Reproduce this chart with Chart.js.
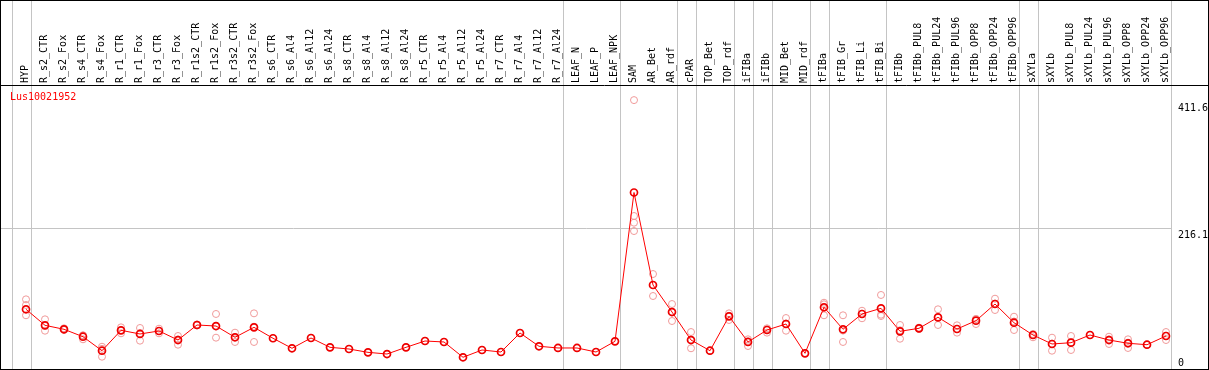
<!DOCTYPE html>
<html>
<head>
<meta charset="utf-8">
<script src="https://cdn.jsdelivr.net/npm/chart.js@4.4.1/dist/chart.umd.min.js"></script>
<style>
  html, body { margin: 0; padding: 0; background: #ffffff; }
  #wrap { width: 1209px; height: 370px; }
</style>
</head>
<body>
<div id="wrap"><canvas id="c" width="1209" height="370"></canvas></div>
<script>
// ---- data ----
const geneName = "Lus10021952";
const categories = ["HYP","R_s2_CTR","R_s2_Fox","R_s4_CTR","R_s4_Fox","R_r1_CTR","R_r1_Fox","R_r3_CTR","R_r3_Fox","R_r1s2_CTR","R_r1s2_Fox","R_r3s2_CTR","R_r3s2_Fox","R_s6_CTR","R_s6_Al4","R_s6_Al12","R_s6_Al24","R_s8_CTR","R_s8_Al4","R_s8_Al12","R_s8_Al24","R_r5_CTR","R_r5_Al4","R_r5_Al12","R_r5_Al24","R_r7_CTR","R_r7_Al4","R_r7_Al12","R_r7_Al24","LEAF_N","LEAF_P","LEAF_NPK","SAM","AR_Bet","AR_rdf","cPAR","TOP_Bet","TOP_rdf","iFIBa","iFIBb","MID_Bet","MID_rdf","tFIBa","tFIB_Gr","tFIB_Li","tFIB_Bi","tFIBb","tFIBb_PUL8","tFIBb_PUL24","tFIBb_PUL96","tFIBb_OPP8","tFIBb_OPP24","tFIBb_OPP96","sXYLa","sXYLb","sXYLb_PUL8","sXYLb_PUL24","sXYLb_PUL96","sXYLb_OPP8","sXYLb_OPP24","sXYLb_OPP96"];
const meanValues = [91.7,67.1,61.0,49.6,28.1,59.4,53.8,58.4,44.5,67.6,66.0,48.7,64.0,47.2,31.8,47.6,33.3,30.7,25.6,23.0,33.3,43.0,41.5,18.0,29.2,26.1,55.3,34.9,32.3,32.3,26.1,42.5,271.1,129.0,87.5,44.5,28.1,80.9,41.5,59.9,69.1,24.1,94.8,61.0,84.5,93.2,57.9,62.5,79.4,61.4,74.2,99.8,71.1,52.2,38.4,40.4,52.2,44.5,39.5,37.3,50.7];
const replicateValues = [
  [107.0,98.3,82.5],[76.3,66.5,58.8],[62.5,60.5,60.0],[51.8,51.5,45.6],[34.2,31.0,18.9],
  [64.0,59.5,54.8],[63.0,55.0,43.5],[61.9,58.5,54.8],[50.7,45.5,37.3],[68.5,67.5,66.8],
  [84.5,65.5,48.1],[55.8,48.8,41.5],[85.5,65.0,41.5],[47.2],[31.8],
  [47.6],[33.3],[30.7],[25.6],[23.0],
  [33.3],[43.0],[41.5],[18.0],[29.2],
  [26.1],[55.3],[34.9],[32.3],[32.3],
  [26.1],[42.5],[413.0,235.0,224.7,211.9],[145.9,129.0,112.1],[99.8,88.0,73.7],
  [56.8,45.0,31.8],[28.1],[85.5,81.5,75.3],[45.6,43.0,35.3],[62.5,61.0,55.8],
  [78.3,70.0,58.8],[24.1],[101.8,99.4,82.5],[82.5,59.0,41.5],[89.5,85.0,77.9],
  [113.7,83.4,81.4],[67.6,59.5,46.5],[63.5,62.0,61.5],[91.7,79.0,67.6],[67.1,61.5,55.8],
  [76.5,77.0,69.1],[108.0,100.5,90.6],[80.3,73.0,59.9],[53.8,52.0,48.7],[48.1,39.0,28.1],
  [50.7,41.0,29.2],[52.2],[49.6,45.5,38.4],[45.6,40.5,32.3],[37.3],[56.8,51.0,44.5]
];
const yTickValues = [0, 216.1, 411.6];
const yMax = 436.2;
// group separators: drawn just after these category indices
const separatorsAfter = [-1,0,28,31,34,35,37,38,39,41,42,45,52,53,60];

// ---- build datasets ----
const repPoints = [];
replicateValues.forEach((arr, i) => arr.forEach(v => repPoints.push({x: categories[i], y: v})));

const GRAY = '#c4c4c4';
const FONT = '"DejaVu Sans Mono", "Liberation Mono", monospace';

const decor = {
  id: 'decor',
  beforeDatasetsDraw(chart) {
    const ctx = chart.ctx, xs = chart.scales.x, ys = chart.scales.y;
    ctx.save();
    ctx.strokeStyle = GRAY;
    ctx.lineWidth = 1;
    const step = xs.getPixelForValue(1) - xs.getPixelForValue(0);
    const lastSep = Math.round(xs.getPixelForValue(categories.length - 1) + step * 0.24) + 0.5;
    separatorsAfter.forEach(i => {
      const x = Math.round(xs.getPixelForValue(0) + step * (i + 0.24)) + 0.5;
      ctx.beginPath(); ctx.moveTo(x, 0); ctx.lineTo(x, 370); ctx.stroke();
    });
    const gy = Math.round(ys.getPixelForValue(yTickValues[1])) + 0.5;
    ctx.beginPath(); ctx.moveTo(1, gy); ctx.lineTo(lastSep, gy); ctx.stroke();
    ctx.restore();
  },
  afterDraw(chart) {
    const ctx = chart.ctx, ys = chart.scales.y;
    ctx.save();
    ctx.strokeStyle = '#000';
    ctx.lineWidth = 1;
    ctx.strokeRect(0.5, 0.5, 1208, 369);
    ctx.beginPath(); ctx.moveTo(0, 85.5); ctx.lineTo(1209, 85.5); ctx.stroke();
    ctx.font = '10px ' + FONT;
    ctx.textBaseline = 'top';
    ctx.textAlign = 'left';
    ctx.fillStyle = '#000';
    yTickValues.forEach(v => {
      const y = Math.min(ys.getPixelForValue(v) + 2, 358);
      ctx.fillText(String(v), 1178, y);
    });
    ctx.fillStyle = '#ff0000';
    ctx.fillText(geneName, 10, 92);
    ctx.restore();
  }
};

new Chart(document.getElementById('c'), {
  type: 'line',
  data: {
    labels: categories,
    datasets: [
      {
        label: 'mean',
        data: meanValues,
        borderColor: '#ff0000',
        borderWidth: 1,
        pointRadius: 3.5,
        pointBorderWidth: 1.7,
        pointBorderColor: '#ee0000',
        pointBackgroundColor: 'rgba(0,0,0,0)',
        tension: 0,
        order: 0
      },
      {
        label: 'replicates',
        data: repPoints,
        showLine: false,
        pointRadius: 3.5,
        pointBorderWidth: 1,
        pointBorderColor: '#f09a9a',
        pointBackgroundColor: 'rgba(0,0,0,0)',
        order: 1
      }
    ]
  },
  options: {
    responsive: false,
    animation: false,
    events: [],
    layout: { autoPadding: false, padding: { left: 26, right: 43, top: 0, bottom: 1 } },
    plugins: { legend: { display: false }, tooltip: { enabled: false } },
    scales: {
      x: {
        type: 'category',
        position: 'top',
        offset: false,
        grid: { display: false, drawTicks: false },
        border: { display: false },
        ticks: {
          autoSkip: false,
          minRotation: 90,
          maxRotation: 90,
          padding: 2,
          labelOffset: 11.5,
          color: '#000',
          font: { family: FONT, size: 10 }
        },
        afterFit(axis) { axis.height = 85; }
      },
      y: {
        type: 'linear',
        min: 0,
        max: yMax,
        display: false
      }
    }
  },
  plugins: [decor]
});
</script>
</body>
</html>
